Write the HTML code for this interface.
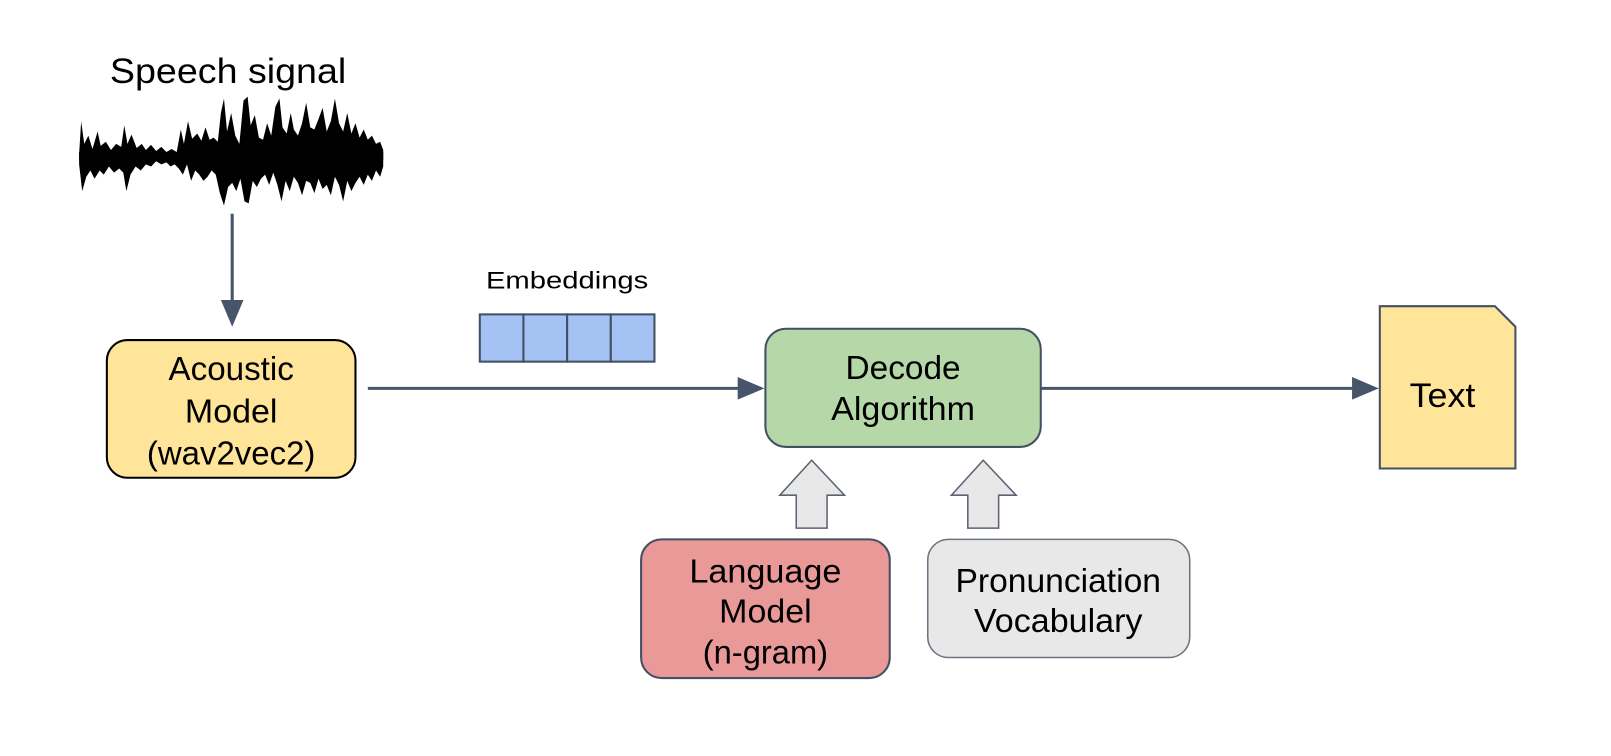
<!DOCTYPE html>
<html><head><meta charset="utf-8"><style>
html,body{margin:0;padding:0;background:#fff;}
svg{display:block;font-family:"Liberation Sans",Arial,sans-serif;}
</style></head><body>
<svg width="1611" height="756" viewBox="0 0 1611 756">
<g transform="scale(1.0274)">
<text x="222" y="81" font-size="34" text-anchor="middle" textLength="230" lengthAdjust="spacingAndGlyphs">Speech signal</text>
<path fill="#000" d="M77,150 L79,118 L82,140 L86,132 L90,145 L95,128 L98,142 L103,138 L108,146 L113,140 L118,143 L121,122 L124,140 L128,131 L133,144 L138,140 L142,146 L147,141 L152,147 L157,143 L162,148 L167,145 L172,148 L176,126 L179,140 L183,118 L187,135 L192,130 L196,137 L200,124 L204,136 L208,134 L212,138 L215,110 L218,96 L221,128 L225,110 L229,132 L233,140 L237,98 L241,94 L244,122 L248,112 L252,134 L256,136 L260,120 L264,132 L268,104 L272,96 L275,124 L279,130 L283,110 L286,126 L290,132 L294,120 L298,100 L302,124 L306,126 L310,116 L314,105 L318,128 L322,118 L326,96 L330,120 L334,128 L338,110 L342,130 L346,120 L350,134 L354,126 L358,136 L362,132 L366,140 L370,138 L373,146
L373,162 L370,172 L366,166 L362,176 L358,170 L354,180 L350,172 L346,178 L342,186 L338,176 L334,196 L330,180 L326,172 L322,190 L318,180 L314,184 L310,174 L306,188 L302,178 L298,176 L294,190 L290,178 L286,172 L282,186 L278,176 L274,196 L270,180 L266,168 L262,180 L258,170 L254,174 L250,182 L246,176 L242,198 L238,196 L234,174 L230,186 L226,178 L222,182 L218,200 L214,188 L210,170 L206,166 L202,172 L198,176 L194,170 L190,166 L186,176 L182,160 L178,170 L174,164 L170,160 L166,162 L162,158 L157,160 L152,157 L147,162 L142,160 L137,166 L132,162 L127,170 L123,186 L120,168 L116,164 L111,168 L106,162 L101,170 L97,166 L92,174 L88,166 L84,172 L80,186 L77,160 Z"/>
<path d="M77,152 L373,152" stroke="#000" stroke-width="8"/>
<g stroke="#47546a" stroke-width="3" fill="#47546a">
<line x1="226" y1="208" x2="226" y2="300"/>
<polygon points="215,292 237,292 226,318" stroke="none"/>
<line x1="358" y1="378" x2="722" y2="378"/>
<polygon points="718,367 744,378 718,389" stroke="none"/>
<line x1="1013" y1="378" x2="1320" y2="378"/>
<polygon points="1316,367 1342,378 1316,389" stroke="none"/>
</g>
<rect x="104" y="331" width="242" height="134" rx="20" fill="#ffe599" stroke="#000" stroke-width="2"/>
<g font-size="32" text-anchor="middle" lengthAdjust="spacingAndGlyphs">
<text x="225" y="370" textLength="122" lengthAdjust="spacingAndGlyphs">Acoustic</text>
<text x="225" y="411" textLength="90" lengthAdjust="spacingAndGlyphs">Model</text>
<text x="225" y="452" textLength="164" lengthAdjust="spacingAndGlyphs">(wav2vec2)</text>
</g>
<text x="552" y="281" font-size="23" text-anchor="middle" textLength="158" lengthAdjust="spacingAndGlyphs">Embeddings</text>
<g fill="#a4c2f4" stroke="#434f63" stroke-width="2">
<rect x="467" y="306" width="42.5" height="46"/><rect x="509.5" y="306" width="42.5" height="46"/><rect x="552" y="306" width="42.5" height="46"/><rect x="594.5" y="306" width="42.5" height="46"/>
</g>
<rect x="745" y="320" width="268" height="115" rx="20" fill="#b6d7a8" stroke="#434f63" stroke-width="2"/>
<g font-size="32" text-anchor="middle">
<text x="879" y="369" textLength="112" lengthAdjust="spacingAndGlyphs">Decode</text>
<text x="879" y="409" textLength="140" lengthAdjust="spacingAndGlyphs">Algorithm</text>
</g>
<path d="M1343,298 L1455,298 L1475,318 L1475,456 L1343,456 Z" fill="#ffe599" stroke="#434f63" stroke-width="2"/>
<text x="1404" y="396" font-size="33" text-anchor="middle" textLength="64" lengthAdjust="spacingAndGlyphs">Text</text>
<g fill="#e8e8e8" stroke="#5b6473" stroke-width="1.5">
<polygon points="790,448 822,482 805,482 805,514 775,514 775,482 759,482"/>
<polygon points="957,448 989,482 972,482 972,514 942,514 942,482 926,482"/>
</g>
<rect x="624" y="525" width="242" height="135" rx="20" fill="#ea9999" stroke="#434f63" stroke-width="2"/>
<g font-size="32" text-anchor="middle">
<text x="745" y="567" textLength="148" lengthAdjust="spacingAndGlyphs">Language</text>
<text x="745" y="606" textLength="90" lengthAdjust="spacingAndGlyphs">Model</text>
<text x="745" y="646" textLength="122" lengthAdjust="spacingAndGlyphs">(n-gram)</text>
</g>
<rect x="903" y="525" width="255" height="115" rx="20" fill="#e8e8e8" stroke="#6b7480" stroke-width="1.5"/>
<g font-size="32" text-anchor="middle">
<text x="1030" y="576" textLength="200" lengthAdjust="spacingAndGlyphs">Pronunciation</text>
<text x="1030" y="615" textLength="164" lengthAdjust="spacingAndGlyphs">Vocabulary</text>
</g>
</g>
</svg>
</body></html>
